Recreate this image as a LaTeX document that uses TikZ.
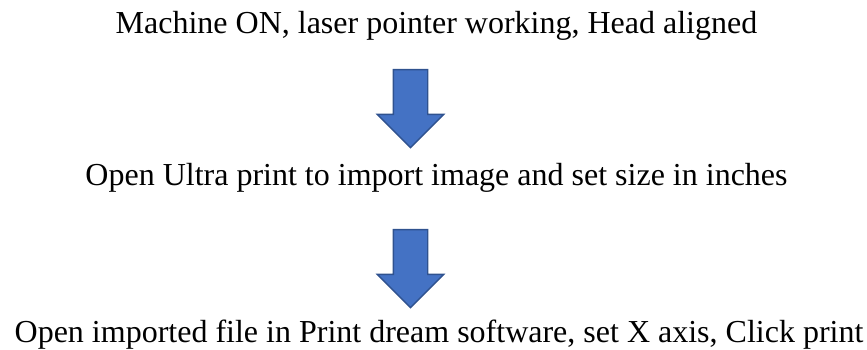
\documentclass[tikz,border=0pt]{standalone}
\usepackage{fontspec}
\setmainfont{Liberation Serif}
\usetikzlibrary{shapes.arrows}

\begin{document}
\begin{tikzpicture}[
        x=1pt, y=-1pt,
        steptext/.style={
            anchor=base,
            inner sep=0pt,
            font=\fontsize{32}{36}\selectfont
        },
        downarrow/.style={
            single arrow,
            rotate=-90,
            draw=arrowedge,
            line width=1.4pt,
            fill=arrowfill,
            inner xsep=0pt,
            inner ysep=16.5pt,
            minimum height=78pt,
            single arrow head extend=16pt,
            single arrow tip angle=90,
            single arrow head indent=0pt
        }
    ]
        \definecolor{arrowfill}{HTML}{4472C4}
        \definecolor{arrowedge}{HTML}{2F528F}
        \useasboundingbox (0,0) rectangle (867,349);

        \node[steptext] (power) at (436.5,33) {Machine ON, laser pointer working, Head aligned};
        \node[steptext] (import) at (436.5,185) {Open Ultra print to import image and set size in inches};
        \node[steptext] (print) at (439,342) {Open imported file in Print dream software, set X axis, Click print};

        \node[downarrow] (arrowA) at (410.5,100) {};
        \node[downarrow] (arrowB) at (410.5,260) {};
    \end{tikzpicture}
\end{document}
